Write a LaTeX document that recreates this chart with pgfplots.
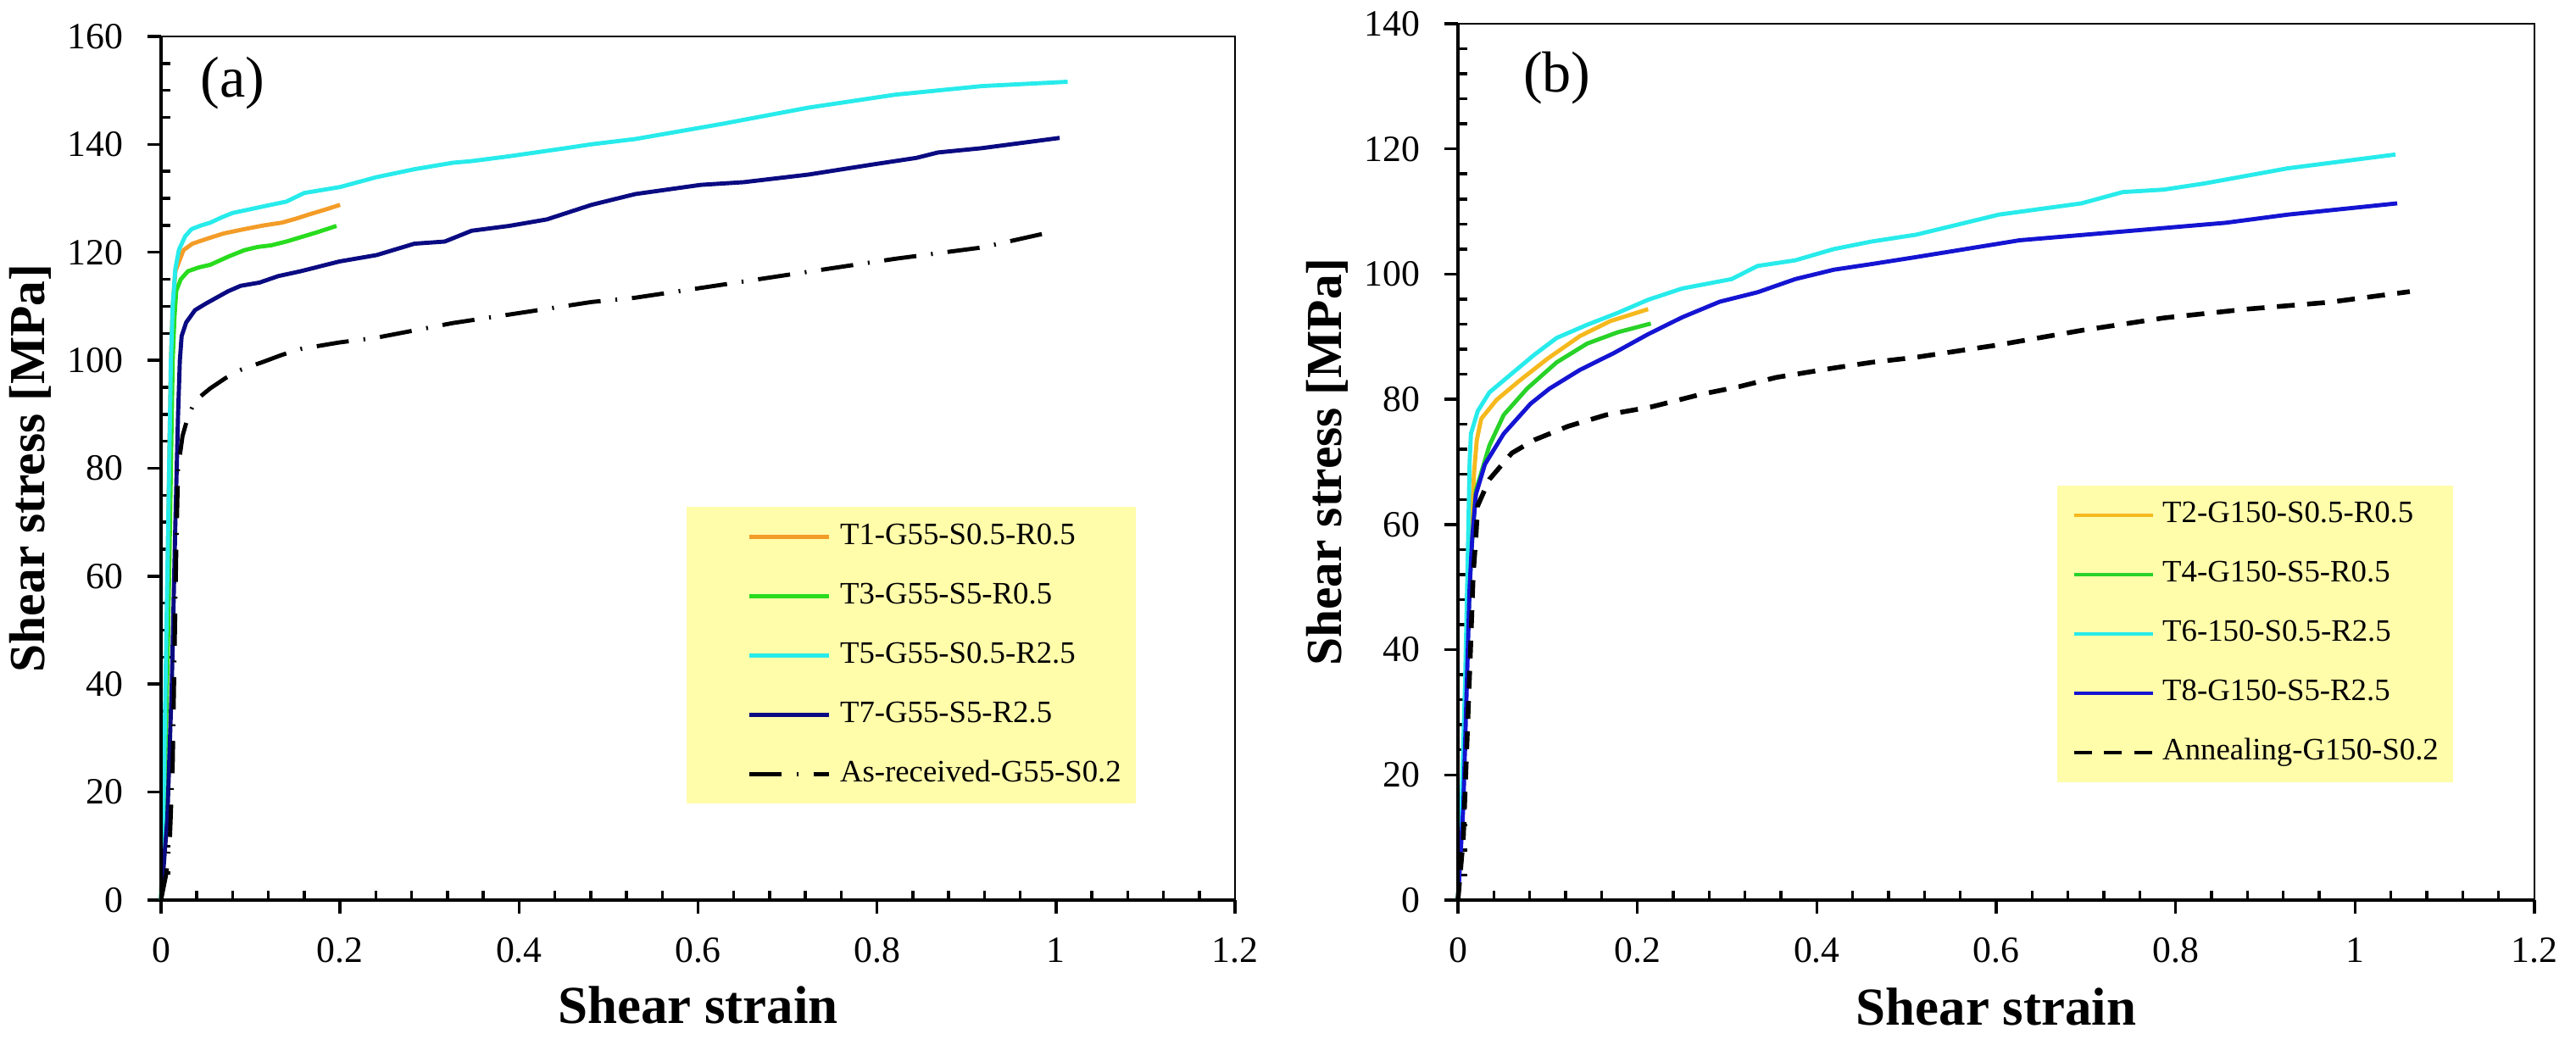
\documentclass[border=0pt]{standalone}
\usepackage{fontspec}
\setmainfont{Liberation Serif}
\usepackage{pgfplots}
\pgfplotsset{compat=1.18}

\definecolor{corange}{RGB}{243,156,40}
\definecolor{cgreen}{RGB}{40,220,30}
\definecolor{ccyan}{RGB}{40,235,235}
\definecolor{cnavy}{RGB}{10,10,130}
\definecolor{cyorange}{RGB}{245,185,30}
\definecolor{cgreenb}{RGB}{40,210,40}
\definecolor{cblue}{RGB}{20,20,210}
\definecolor{legyellow}{RGB}{255,252,170}

\pgfplotsset{
  panel/.style={
    scale only axis,
    clip=false,
    xmin=0, xmax=1.2, xtick={0,0.2,0.4,0.6,0.8,1,1.2}, minor x tick num=4,
    ymin=0,
    axis line style={line width=0.5pt},
    xtick pos=bottom, ytick pos=left,
    tick align=outside,
    major tick length=4.5pt, minor tick length=-3pt,
    tick style={black, line width=1pt},
    tick label style={font=\fontsize{12.5}{15}\selectfont, inner sep=0pt},
    /pgf/number format/assume math mode=true,
    xticklabel style={yshift=-8pt},
    yticklabel style={xshift=-8pt},
    xlabel={Shear strain},
    ylabel={Shear stress [MPa]},
    xlabel style={font=\bfseries\fontsize{18}{21}\selectfont, at={(axis description cs:0.5,-0.122)}, anchor=center},
    ylabel style={font=\bfseries\fontsize{17}{20}\selectfont, at={(axis description cs:-0.1215,0.5)}, anchor=center},
    legend cell align=left,
    legend image post style={line width=1.4pt},
    every axis plot/.append style={line width=1.4pt, line join=round},
  },
}

\begin{document}
\begin{tikzpicture}
\path[use as bounding box] (0,0) rectangle (868.29pt,352.29pt);

% ---------------- panel (a) ----------------
\begin{axis}[panel,
  at={(54.29pt,48.86pt)}, anchor=south west,
  width=362pt, height=291.14pt,
  ymax=160, ytick={0,20,40,60,80,100,120,140,160}, minor y tick num=3,
  legend style={at={(axis cs:0.587,72.9)}, anchor=north west, fill=legyellow, draw=none,
    inner xsep=5pt, inner ysep=5pt, font=\fontsize{10.5}{12.6}\selectfont,
    row sep=10pt, column sep=2.9pt,
    nodes={inner sep=0pt, text height=7.5pt, text depth=2.5pt}},
  legend image code/.code={\path[draw=none,fill=none] (0pt,-2pt) rectangle (43pt,2pt); \draw[#1,line width=1.4pt] (16.1pt,0pt) -- (43pt,0pt);},
]
\addplot[corange] coordinates {(0,0) (0.004,25) (0.007,55) (0.009,80) (0.011,100) (0.013,110) (0.016,116.5) (0.025,120.4) (0.035,121.6) (0.051,122.5) (0.07,123.5) (0.093,124.3) (0.115,125) (0.135,125.5) (0.15,126.2) (0.165,127) (0.185,128) (0.2,128.8)};
\addlegendentry{T1-G55-S0.5-R0.5}
\addplot[cgreen] coordinates {(0,0) (0.004,20) (0.008,50) (0.011,80) (0.013,100) (0.015,108) (0.017,112.9) (0.022,115) (0.03,116.5) (0.042,117.2) (0.055,117.7) (0.075,119.2) (0.093,120.4) (0.108,121) (0.123,121.3) (0.14,122) (0.156,122.8) (0.176,123.8) (0.196,124.9)};
\addlegendentry{T3-G55-S5-R0.5}
\addplot[ccyan] coordinates {(0,0) (0.003,20) (0.006,50) (0.009,80) (0.011,100) (0.013,110) (0.016,117) (0.02,120.5) (0.027,123) (0.034,124.3) (0.045,125) (0.055,125.5) (0.068,126.5) (0.08,127.3) (0.1,128) (0.114,128.5) (0.14,129.4) (0.16,131) (0.2,132.1) (0.24,133.9) (0.283,135.4) (0.326,136.6) (0.347,136.9) (0.389,137.8) (0.452,139.3) (0.48,140) (0.53,141) (0.627,143.8) (0.723,146.8) (0.82,149.2) (0.917,150.8) (1.013,151.6)};
\addlegendentry{T5-G55-S0.5-R2.5}
\addplot[cnavy] coordinates {(0,0) (0.007,15) (0.012,40) (0.016,70) (0.019,90) (0.021,100) (0.023,104.5) (0.028,107) (0.038,109.3) (0.05,110.5) (0.063,111.7) (0.075,112.8) (0.089,113.8) (0.11,114.4) (0.131,115.6) (0.156,116.5) (0.199,118.3) (0.241,119.5) (0.283,121.6) (0.317,122) (0.347,124) (0.389,124.9) (0.431,126.1) (0.481,128.8) (0.53,130.8) (0.603,132.5) (0.651,133) (0.723,134.4) (0.796,136.3) (0.844,137.5) (0.868,138.5) (0.917,139.3) (1.004,141.2)};
\addlegendentry{T7-G55-S5-R2.5}
\addplot[black, dash pattern=on 10.9pt off 5pt on 0.6pt off 5pt] coordinates {(0,0) (0.006,5) (0.01,12) (0.013,25) (0.015,45) (0.017,65) (0.019,80) (0.024,86) (0.03,89.5) (0.038,92.5) (0.055,94.8) (0.072,96.7) (0.09,98.3) (0.114,99.7) (0.135,101) (0.156,102.1) (0.199,103.3) (0.241,104.2) (0.326,106.9) (0.41,109) (0.481,110.8) (0.53,111.6) (0.627,114) (0.723,116.4) (0.82,118.8) (0.917,120.9) (0.99,123.6)};
\addlegendentry{As-received-G55-S0.2}
\draw[line width=1.1pt] (rel axis cs:0,1) -- (rel axis cs:0,0) -- (rel axis cs:1,0);
\node[font=\fontsize{19.5}{23}\selectfont] at (rel axis cs:0.0666,0.946) {(a)};
\end{axis}

% ---------------- panel (b) ----------------
\begin{axis}[panel,
  at={(491.43pt,48.86pt)}, anchor=south west,
  width=362.86pt, height=295.43pt,
  ymax=140, ytick={0,20,40,60,80,100,120,140}, minor y tick num=4,
  legend style={at={(axis cs:0.667,66.3)}, anchor=north west, fill=legyellow, draw=none,
    inner xsep=5pt, inner ysep=5pt, font=\fontsize{10.5}{12.6}\selectfont,
    row sep=10pt, column sep=2.6pt,
    nodes={inner sep=0pt, text height=7.5pt, text depth=2.5pt}},
  legend image code/.code={\path[draw=none,fill=none] (0pt,-2pt) rectangle (26.6pt,2pt); \draw[#1,line width=1.4pt] (0pt,0pt) -- (26.6pt,0pt);},
]
\addplot[cyorange] coordinates {(0,0) (0.005,15) (0.009,35) (0.012,50) (0.015,60) (0.018,68.4) (0.021,73.5) (0.026,76.9) (0.043,79.9) (0.068,82.9) (0.1,86.5) (0.136,90.1) (0.17,92.5) (0.212,94.4)};
\addlegendentry{T2-G150-S0.5-R0.5}
\addplot[cgreenb] coordinates {(0,0) (0.005,15) (0.009,35) (0.013,50) (0.016,58) (0.02,65.4) (0.035,72.6) (0.051,77.5) (0.077,81.7) (0.11,85.9) (0.144,88.9) (0.178,90.7) (0.215,92.1)};
\addlegendentry{T4-G150-S5-R0.5}
\addplot[ccyan] coordinates {(0,0) (0.004,15) (0.008,35) (0.011,55) (0.013,70) (0.0145,74.5) (0.022,78.1) (0.035,81.1) (0.06,84.1) (0.085,87.1) (0.11,89.8) (0.144,91.9) (0.178,93.8) (0.212,95.9) (0.25,97.7) (0.305,99.2) (0.334,101.3) (0.376,102.2) (0.419,104) (0.461,105.2) (0.511,106.3) (0.603,109.5) (0.695,111.3) (0.741,113.1) (0.787,113.5) (0.833,114.5) (0.925,116.9) (1.045,119.1)};
\addlegendentry{T6-150-S0.5-R2.5}
\addplot[cblue] coordinates {(0,0) (0.006,15) (0.01,35) (0.013,50) (0.016,58) (0.02,64.8) (0.03,69.6) (0.051,74.5) (0.081,79.3) (0.102,81.7) (0.136,84.7) (0.174,87.4) (0.212,90.4) (0.25,93.1) (0.292,95.6) (0.334,97.1) (0.376,99.2) (0.419,100.7) (0.461,101.6) (0.51,102.7) (0.626,105.4) (0.741,106.8) (0.856,108.2) (0.925,109.5) (1.047,111.3)};
\addlegendentry{T8-G150-S5-R2.5}
\addplot[black, line width=1.6pt, dash pattern=on 6pt off 4.2pt] coordinates {(0,0) (0.006,10) (0.01,25) (0.014,40) (0.017,52) (0.02,58) (0.022,63) (0.035,67.2) (0.06,71.4) (0.085,73.5) (0.123,75.7) (0.165,77.5) (0.216,78.8) (0.271,80.8) (0.313,82) (0.355,83.5) (0.419,85) (0.461,85.9) (0.51,86.7) (0.603,88.7) (0.695,91) (0.787,93) (0.879,94.4) (0.971,95.5) (1.061,97.2)};
\addlegendentry{Annealing-G150-S0.2}
\draw[line width=1.1pt] (rel axis cs:0,1) -- (rel axis cs:0,0) -- (rel axis cs:1,0);
\node[font=\fontsize{19.5}{23}\selectfont] at (rel axis cs:0.092,0.938) {(b)};
\end{axis}
\end{tikzpicture}
\end{document}
